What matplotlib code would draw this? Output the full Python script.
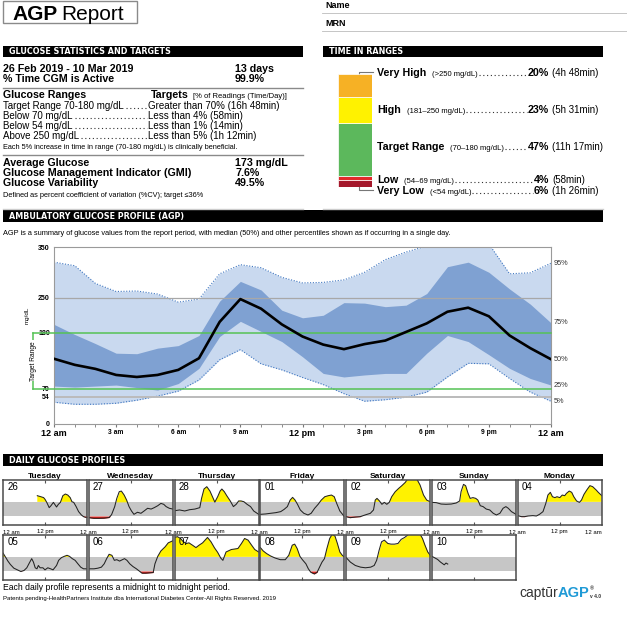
import matplotlib
matplotlib.use('Agg')
import numpy as np
import matplotlib.pyplot as plt
import matplotlib.transforms as mtrans
from matplotlib.patches import Rectangle

plt.rcParams['font.family'] = ['Liberation Sans', 'DejaVu Sans']

W, H = 627, 632

# ---- glucose statistics ----
period_rows = [("26 Feb 2019 - 10 Mar 2019", "13 days"),
               ("% Time CGM is Active", "99.9%")]
target_rows = [("Target Range 70-180 mg/dL", "Greater than 70% (16h 48min)"),
               ("Below 70 mg/dL", "Less than 4% (58min)"),
               ("Below 54 mg/dL", "Less than 1% (14min)"),
               ("Above 250 mg/dL", "Less than 5% (1h 12min)")]
summary_rows = [("Average Glucose", "173 mg/dL"),
                ("Glucose Management Indicator (GMI)", "7.6%"),
                ("Glucose Variability", "49.5%")]

# ---- time in ranges ----
tir_names = ['Very High', 'High', 'Target Range', 'Low', 'Very Low']
tir_ranges = ['(>250 mg/dL)', '(181–250 mg/dL)', '(70–180 mg/dL)', '(54–69 mg/dL)', '(<54 mg/dL)']
tir_pct = [20, 23, 47, 4, 6]
tir_time = ['(4h 48min)', '(5h 31min)', '(11h 17min)', '(58min)', '(1h 26min)']
tir_colors = ['#f6b125', '#fff200', '#5cb85c', '#e12a2a', '#a5182b']

# ---- AGP percentiles (mg/dL), hourly from 12 am to 12 am ----
hours = list(range(25))
p95 = [320, 313, 278, 262, 263, 257, 241, 247, 297, 315, 309, 290, 279, 280, 285, 300,
       325, 340, 352, 372, 376, 356, 297, 299, 318]
p75 = [197, 177, 159, 140, 139, 150, 155, 175, 243, 282, 265, 225, 210, 215, 240, 239,
       232, 235, 258, 311, 320, 300, 267, 237, 200]
p50 = [129, 117, 109, 97, 93, 97, 107, 130, 202, 247, 228, 197, 173, 157, 148, 158,
       165, 182, 199, 222, 230, 213, 175, 150, 128]
p25 = [75, 73, 75, 77, 72, 67, 80, 110, 173, 203, 183, 163, 133, 100, 93, 97,
       100, 100, 140, 175, 163, 137, 110, 90, 77]
p05 = [43, 39, 39, 41, 47, 55, 65, 87, 127, 147, 119, 107, 92, 78, 60, 45,
       48, 53, 63, 93, 120, 119, 90, 63, 45]
x_labels = ['12 am', '3 am', '6 am', '9 am', '12 pm', '3 pm', '6 pm', '9 pm', '12 am']
y_ticks = [0, 54, 70, 180, 250, 350]

# ---- daily glucose profiles ----
day_names = ['Tuesday', 'Wednesday', 'Thursday', 'Friday', 'Saturday', 'Sunday', 'Monday']
dates = ['26', '27', '28', '01', '02', '03', '04', '05', '06', '07', '08', '09', '10']
daily_hours = {
    '26': [9.8, 10.8, 11.6, 12, 12.5, 13.2, 13.7, 14.4, 14.8, 15.3, 15.8, 16.4, 17.1, 17.8,
           18.5, 19.2, 19.7, 20.2, 20.9, 21.6, 22.4, 23.0, 24],
    '27': [0, 1.4, 2.9, 4.3, 5.8, 6.5, 7.4, 8, 8.7, 9.3, 10.1, 10.8, 11.5, 12.2, 12.9, 13.9,
           14.9, 15.8, 16.8, 17.8, 18.7, 19.7, 20.6, 21.4, 22.1, 23, 24],
    '28': [0, 1.4, 2.9, 4.3, 5.8, 7.2, 7.7, 8.4, 9.2, 10.1, 11.5, 12.3, 13, 13.5, 14.2, 14.9,
           15.9, 16.8, 17.6, 18.3, 19, 19.8, 20.7, 21.7, 22.6, 24],
    '01': [0, 1.5, 2.9, 4.4, 5.8, 6.8, 7.7, 8.5, 9.2, 9.9, 10.6, 11.4, 12.4, 13.6, 14.5, 15.5,
           16.5, 17.4, 18.4, 19.4, 20.3, 21.1, 21.8, 22.7, 24],
    '02': [0, 1.1, 2.6, 4, 5.4, 6.9, 7.8, 8.3, 8.8, 9.5, 10.2, 10.9, 11.6, 12.3, 13, 14, 15,
           15.9, 16.9, 17.6, 19.2, 20.2, 21.1, 22.1, 23, 24],
    '03': [0, 1.2, 2.6, 4, 5.5, 6.9, 7.9, 8.3, 9, 9.6, 10.3, 10.9, 11.7, 12.5, 13.1, 13.8,
           14.6, 15.5, 16.5, 17.5, 18.4, 19.4, 20.3, 21.1, 21.8, 22.7, 24],
    '04': [0, 1, 1.9, 2.9, 4.3, 5.3, 6.2, 7.2, 8, 8.6, 9.3, 9.9, 10.6, 11.2, 12, 12.7, 13.4,
           13.9, 14.7, 15.4, 16, 16.8, 17.6, 18.2, 18.9, 19.7, 20.6, 21.4, 22.4, 23, 24],
    '05': [0, 0.7, 1.4, 2.1, 3.1, 4.1, 5.1, 6, 6.8, 7.5, 8.2, 8.7, 9.2, 9.7, 10.1, 10.6, 11.4,
           12, 12.8, 13.6, 14.3, 15.3, 15.9, 16.7, 17.5, 18.3, 19, 19.8, 20.6, 21.4, 22.2, 23, 24],
    '06': [0, 1.5, 2.6, 3.6, 4.4, 5.1, 5.8, 6.6, 7.3, 8, 8.8, 9.6, 10.2, 10.9, 11.7, 12.6,
           13.6, 14.5, 15.2, 16.2, 17.1, 18.4, 18.9, 19.7, 20.6, 21.8, 22.7, 24],
    '07': [0, 0.8, 1.7, 2.5, 3.4, 4.1, 5.1, 6.1, 7, 8, 8.7, 9.4, 10.4, 11.4, 12.3, 13.2, 13.8,
           14.7, 16.2, 18.1, 19.1, 20, 21, 22, 22.9, 24],
    '08': [0, 0.8, 1.8, 2.9, 4.2, 5.7, 7.1, 8.1, 9.1, 9.8, 10.5, 11.3, 12, 13, 13.7, 14.4,
           15.4, 16.2, 16.9, 17.6, 18.3, 19, 19.8, 20.5, 21.3, 22, 22.7, 23.4, 24],
    '09': [0, 1.2, 2.6, 4.1, 5.5, 7, 8, 8.7, 9.4, 10.1, 10.9, 11.9, 12.8, 13.8, 14.8, 15.7,
           16.7, 17.9, 19.6, 21.1, 21.8, 22.5, 23.3, 24],
    '10': [0, 0.8, 1.6, 2.4, 3.0, 3.5, 4.0, 4.5],
}
daily_glucose = {
    '26': [228, 220, 213, 200, 176, 135, 150, 176, 160, 140, 160, 176, 228, 241, 233, 213,
           181, 176, 143, 104, 78, 65, 57],
    '27': [57, 52, 52, 53, 58, 80, 143, 207, 259, 264, 233, 194, 143, 109, 83, 99, 91, 109,
           130, 124, 135, 150, 168, 161, 143, 130, 124],
    '28': [111, 117, 109, 119, 124, 135, 207, 280, 298, 264, 178, 220, 264, 280, 259, 228,
           187, 143, 161, 187, 187, 181, 161, 143, 109, 83],
    '01': [83, 86, 91, 96, 104, 122, 143, 194, 215, 194, 161, 117, 91, 78, 91, 130, 161, 194,
           220, 228, 233, 220, 168, 109, 65],
    '02': [65, 57, 62, 65, 78, 91, 117, 194, 207, 187, 161, 176, 161, 176, 220, 259, 285, 306,
           332, 360, 362, 356, 311, 233, 194, 181],
    '03': [176, 174, 163, 161, 163, 171, 187, 259, 316, 306, 246, 207, 213, 207, 194, 150,
           143, 124, 117, 91, 78, 91, 130, 143, 130, 104, 83],
    '04': [73, 65, 65, 70, 73, 70, 83, 104, 168, 233, 254, 220, 213, 220, 213, 233, 228, 246,
           264, 254, 220, 187, 176, 194, 238, 272, 306, 298, 272, 254, 228],
    '05': [210, 179, 147, 121, 92, 79, 66, 74, 95, 131, 166, 139, 95, 87, 113, 95, 95, 79, 95,
           87, 79, 113, 153, 174, 184, 192, 184, 166, 153, 126, 100, 87, 87],
    '06': [87, 87, 92, 100, 126, 166, 200, 192, 153, 158, 147, 158, 166, 153, 126, 105, 87,
           68, 53, 53, 55, 58, 126, 184, 226, 258, 289, 305],
    '07': [331, 337, 323, 297, 284, 289, 271, 252, 271, 289, 310, 331, 297, 250, 215, 170,
           153, 218, 237, 245, 284, 323, 310, 271, 237, 218],
    '08': [252, 226, 205, 187, 171, 158, 158, 192, 271, 279, 245, 184, 158, 126, 87, 60, 47,
           60, 100, 139, 166, 245, 323, 355, 342, 284, 218, 192, 179],
    '09': [174, 139, 113, 100, 95, 100, 113, 153, 231, 297, 310, 284, 279, 279, 284, 316, 331,
           356, 358, 356, 323, 271, 218, 192],
    '10': [184, 172, 160, 140, 128, 118, 132, 124],
}

fig = plt.figure(figsize=(W / 100, H / 100), dpi=100)
bg = fig.add_axes([0, 0, 1, 1])
bg.set_xlim(0, W)
bg.set_ylim(H, 0)
bg.axis('off')
R = fig.canvas.get_renderer()


def px_axes(x0, y0, x1, y1):
    return fig.add_axes([x0 / W, 1 - y1 / H, (x1 - x0) / W, (y1 - y0) / H])


def put(x, y, s, size, bold=False, **kw):
    return bg.text(x, y, s, fontsize=size, fontweight='bold' if bold else 'normal',
                   va='baseline', **kw)


def right_end(t):
    return t.get_window_extent(R).x1


def dots(x0, x1, y):
    bg.plot([x0, x1], [y - 0.8, y - 0.8], color='#333333', lw=0.8, ls=(0, (1, 2.4)))


def band(x0, x1, y0, y1, s):
    bg.add_patch(Rectangle((x0, y0), x1 - x0, y1 - y0, color='black', lw=0))
    bg.text(x0 + 6, (y0 + y1) / 2 + 0.5, s, color='white', fontsize=5.8, fontweight='bold',
            family='DejaVu Sans', va='center')


# ---- page header ----
bg.add_patch(Rectangle((3, 1), 134, 22, fill=False, ec='#8a8a8a', lw=1))
t = put(12, 19.5, 'AGP', 15, True)
put(right_end(t) + 4, 19.5, 'Report', 15)
put(325, 8, 'Name', 6.5, True)
put(325, 26, 'MRN', 6.5, True)
bg.plot([322, 627], [13, 13], color='#bbbbbb', lw=0.6)
bg.plot([322, 627], [31, 31], color='#bbbbbb', lw=0.6)

# ---- glucose statistics ----
band(3, 303, 45.7, 56.7, 'GLUCOSE STATISTICS AND TARGETS')
for (lab, val), yb in zip(period_rows, [71.7, 81.7]):
    put(3, yb, lab, 7.7, True)
    put(235, yb, val, 7.7, True)
bg.plot([3, 303], [88.3, 88.3], color='#8a8a8a', lw=1)
put(3, 98.3, 'Glucose Ranges', 7.7, True)
t = put(151, 98.3, 'Targets', 7.7, True)
put(right_end(t) + 4, 98.3, '[% of Readings (Time/Day)]', 5.5)
for (lab, val), yb in zip(target_rows, [108.7, 118.7, 128.7, 138.7]):
    t = put(3, yb, lab, 7)
    dots(right_end(t) + 2, 147, yb)
    put(148, yb, val, 7)
put(3, 148.7, 'Each 5% increase in time in range (70-180 mg/dL) is clinically beneficial.', 5.3)
bg.plot([3, 303], [155, 155], color='#8a8a8a', lw=1)
for (lab, val), yb in zip(summary_rows, [166, 176, 186]):
    put(3, yb, lab, 7.7, True)
    put(235, yb, val, 7.7, True)
put(3, 196.7, 'Defined as percent coefficient of variation (%CV); target ≤36%', 5.3)
bg.plot([3, 303], [209.3, 209.3], color='#cccccc', lw=1)

# ---- time in ranges ----
band(323, 603, 46, 57, 'TIME IN RANGES')
bar = px_axes(338, 74, 372, 187)
bottom = 0
for pct, col in zip(tir_pct[::-1], tir_colors[::-1]):
    bar.bar(0.5, pct, bottom=bottom, width=1, color=col, ec='white', lw=0.5)
    bottom += pct
bar.set_xlim(0, 1)
bar.set_ylim(100, 0)
bar.set_ylim(0, 100)
bar.axis('off')
bg.plot([359, 359, 373], [74, 72, 72], color='#777777', lw=0.8)
bg.plot([359, 359, 373], [187, 190, 190], color='#777777', lw=0.8)
for name, rng, pct, tm, yb in zip(tir_names, tir_ranges, tir_pct, tir_time,
                                  [76, 112.7, 150, 182.7, 193.7]):
    t = put(377, yb, name, 7.7, True)
    t = put(right_end(t) + 6, yb, rng, 5.5)
    p = put(549, yb, f'{pct}%', 7.7, True, ha='right')
    dots(right_end(t) + 1, p.get_window_extent(R).x0 - 1, yb)
    put(552, yb, tm, 7)
bg.plot([323, 603], [209, 209], color='#cccccc', lw=1)

# ---- AGP ----
band(3, 603, 210, 222, 'AMBULATORY GLUCOSE PROFILE (AGP)')
put(3, 235, 'AGP is a summary of glucose values from the report period, with median (50%) '
    'and other percentiles shown as if occurring in a single day.', 5.3)
ax = px_axes(54, 247, 551, 424)
ax.fill_between(hours, p05, p95, color='#c9d9ef', lw=0)
ax.fill_between(hours, p25, p75, color='#7fa1d2', lw=0)
ax.plot(hours, p95, color='#3f76c0', lw=0.8, ls=(0, (1, 1.5)))
ax.plot(hours, p05, color='#3f76c0', lw=0.8, ls=(0, (1, 1.5)))
ax.axhline(250, color='#a8a8a8', lw=0.9)
ax.axhline(54, color='#bbbbbb', lw=1.4)
ax.plot(hours, p50, color='black', lw=1.9, zorder=5)
ax.set_xlim(0, 24)
ax.set_ylim(0, 350)
trans = mtrans.blended_transform_factory(ax.transAxes, ax.transData)
for v in (180, 70):
    ax.plot([-0.042, 1], [v, v], transform=trans, color='#55c255', lw=1.1, clip_on=False,
            zorder=4)
ax.plot([-0.042, -0.042], [70, 180], transform=trans, color='#55c255', lw=1.1, clip_on=False)
ax.text(-0.042, 125, 'Target Range', transform=trans, rotation=90, fontsize=4.8,
        ha='center', va='center', bbox=dict(fc='white', ec='none', pad=0.6))
ax.text(-0.054, 215, 'mg/dL', transform=trans, rotation=90, fontsize=4.5,
        ha='center', va='center')
for lab, series in zip(['95%', '75%', '50%', '25%', '5%'], [p95, p75, p50, p25, p05]):
    ax.annotate(lab, (24, min(series[-1], 350)), xytext=(2, 0), textcoords='offset points',
                fontsize=5.3, va='center', color='#333333', annotation_clip=False)
ax.set_yticks(y_ticks)
ax.set_yticklabels([str(v) for v in y_ticks], fontsize=5, fontweight='bold')
ax.tick_params(axis='y', length=0, pad=3)
ax.set_xticks(range(0, 25, 3))
ax.set_xticks(range(25), minor=True)
ax.set_xticklabels(x_labels, fontweight='bold')
for lab in ax.get_xticklabels():
    lab.set_fontsize(6.5 if lab.get_text().startswith('12') else 4.8)
ax.tick_params(axis='x', which='both', length=2, color='#777777', pad=1.5)
for s in ax.spines.values():
    s.set_color('#9a9a9a')
    s.set_linewidth(0.8)

# ---- daily glucose profiles ----
band(3, 603, 454, 466, 'DAILY GLUCOSE PROFILES')
pitch = 85.8
for c, name in enumerate(day_names):
    put(3 + c * pitch + 42, 478, name, 6, True, ha='center')
    bg.text(3 + c * pitch + 42, 532, '12 pm', fontsize=4.3, ha='center', va='center')
    if c == 0:
        bg.text(3, 532, '12 am', fontsize=4.3, ha='left', va='center')
    else:
        bg.text(3 + c * pitch - 0.9, 532, '12 am', fontsize=4.3, ha='center', va='center')
bg.text(602, 532, '12 am', fontsize=4.3, ha='right', va='center')

for i, d in enumerate(dates):
    row, col = divmod(i, 7)
    x0 = 3 + col * pitch
    y0 = 480 + row * 55
    a = px_axes(x0, y0, x0 + 84, y0 + 45)
    a.set_xlim(0, 24)
    a.set_ylim(0, 350)
    a.axhspan(70, 180, color='#c6c6c6', lw=0)
    h = np.array(daily_hours[d])
    g = np.array(daily_glucose[d])
    a.fill_between(h, g, 180, where=g > 180, interpolate=True, color='#fff200', lw=0)
    a.fill_between(h, g, 70, where=g < 70, interpolate=True, color='#e0201b', lw=0)
    a.plot(h, g, color='#222222', lw=0.75)
    a.set_xticks([12])
    a.tick_params(axis='x', direction='in', top=True, length=2.5, labelbottom=False,
                  color='#555555')
    a.set_yticks([])
    for s in a.spines.values():
        s.set_color('#4a4a4a')
        s.set_linewidth(1.1)
    a.text(0.05, 0.84, d, transform=a.transAxes, fontsize=7, va='center')

put(3, 589.5, 'Each daily profile represents a midnight to midnight period.', 6.2)
put(3, 600, 'Patents pending-HealthPartners Institute dba International Diabetes '
    'Center-All Rights Reserved. 2019', 4.3)
t = put(519, 597, 'captūr', 10, color='#333333')
t = put(right_end(t), 597, 'AGP', 10.5, True, color='#1f9ad6')
e = right_end(t)
put(e + 0.5, 590, '®', 4, True, color='#333333')
put(e + 1, 598, 'v 4.0', 3.5, True, color='#333333')

fig.savefig('out.png', dpi=100)
